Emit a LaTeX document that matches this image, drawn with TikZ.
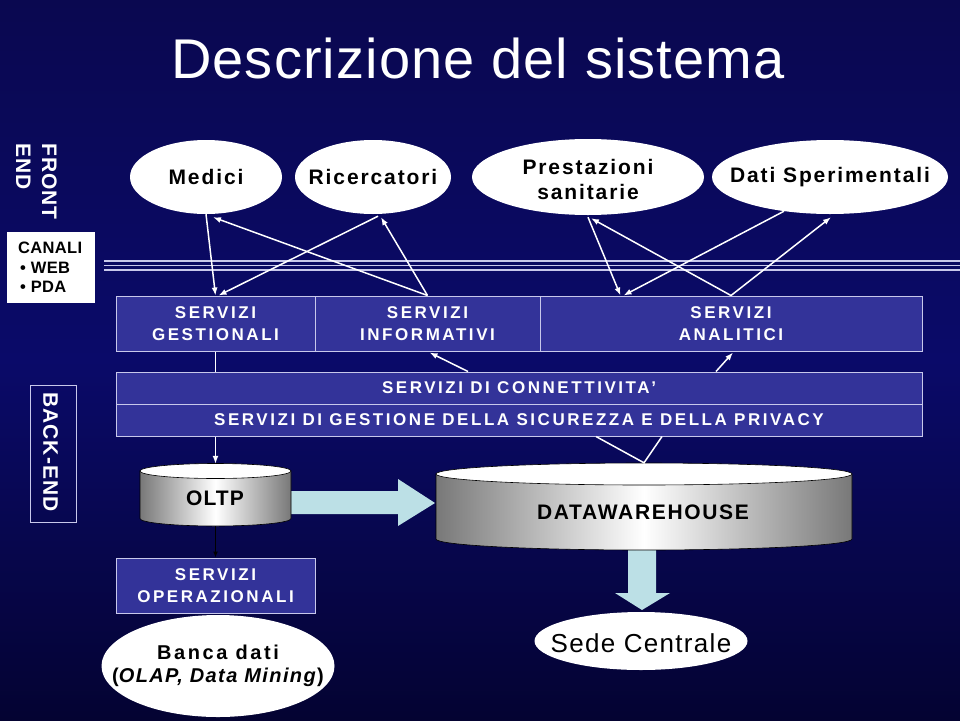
\documentclass[tikz,border=0pt]{standalone}
\usepackage{fontspec}
\setmainfont{Liberation Sans}
\newfontfamily\ttlf{Liberation Sans}[LetterSpace=2]
\newfontfamily\elf{Liberation Sans}[LetterSpace=9]
\newfontfamily\svf{Liberation Sans}[LetterSpace=15]
\newfontfamily\sdf{Liberation Sans}[LetterSpace=5]
\newfontfamily\dwf{Liberation Sans}[LetterSpace=8]
\newfontfamily\bkf{Liberation Sans}[LetterSpace=5]
\newfontfamily\bdf{Liberation Sans}[LetterSpace=13]
\newfontfamily\bdif{Liberation Sans}[LetterSpace=7]
\newfontfamily\cnf{Liberation Sans}[LetterSpace=2]
\usetikzlibrary{shapes.geometric,arrows.meta,calc}
\definecolor{bgtop}{RGB}{10,8,80}
\definecolor{bgmid}{RGB}{10,10,105}
\definecolor{bgbot}{RGB}{4,3,50}
\definecolor{boxblue}{RGB}{51,51,153}
\definecolor{lav}{RGB}{200,200,235}
\definecolor{lblue}{RGB}{188,224,230}
\definecolor{cylgray}{RGB}{120,120,120}
\begin{document}
\begin{tikzpicture}[x=1pt,y=-1pt,
  bub/.style={ellipse, fill=white, draw=none, inner sep=0pt},
  bubtext/.style={font=\elf\bfseries\fontsize{21}{25}\selectfont, text=black, align=center, inner sep=0pt},
  svc/.style={rectangle, fill=boxblue, draw=lav, line width=1pt, text=white, align=center, inner sep=0pt, font=\svf\bfseries\fontsize{17}{22}\selectfont},
  arr/.style={draw=white, line width=1.5pt, -{Latex[length=8pt,width=6pt]}},
  plainline/.style={draw=white, line width=1.5pt},
  blk/.style={draw=black, line width=1.2pt, -{Latex[length=6pt,width=5pt]}},
  cylbox/.style={inner sep=0pt, draw=none},
  cyltext/.style={font=\dwf\bfseries\fontsize{21}{25}\selectfont, text=black, inner sep=0pt},
  sidetext/.style={text=white, inner sep=0pt, font=\bkf\bfseries\fontsize{21}{26}\selectfont}
]
\useasboundingbox (0,0) rectangle (960,720);
\shade[top color=bgtop, bottom color=bgbot, middle color=bgmid] (0,0) rectangle (960,720);

% title
\node[anchor=base, text=white, font=\ttlf\fontsize{56}{60}\selectfont, inner sep=0pt] (title) at (478,78) {Descrizione del sistema};

% front end / canali
\node[sidetext, rotate=-90, anchor=north west, align=left] (fe) at (57,143) {FRONT\\END};
\node[fill=white, minimum width=88pt, minimum height=71pt, inner sep=0pt] (canali) at (51,267.5) {};
\node[anchor=north west, align=left, inner sep=0pt, text=black, font=\cnf\bfseries\fontsize{16.5}{19.5}\selectfont] (canaliT) at (18,242) {CANALI\\\hspace{2pt}• WEB\\\hspace{2pt}• PDA};

% back end
\node[draw=lav, line width=1pt, minimum width=46pt, minimum height=137pt, inner sep=0pt] (beframe) at (53,453.5) {};
\node[sidetext, rotate=-90] (beT) at (50.5,452) {BACK-END};

% triple lines
\foreach \yy in {261,265.5,270} \draw[lav, line width=1.7pt] (104,\yy) -- (960,\yy);

% top ellipses
\node[bub, minimum width=152pt, minimum height=74pt] (medici) at (206,177) {};
\node[bubtext] (mediciT) at (medici) {Medici};
\node[bub, minimum width=156pt, minimum height=74pt] (ricerc) at (373,177) {};
\node[bubtext] (ricercT) at (ricerc) {Ricercatori};
\node[bub, minimum width=232pt, minimum height=76pt] (prest) at (588,177) {};
\node[bubtext] (prestT) at ($(prest)+(0,2)$) {Prestazioni\\sanitarie};
\node[bub, minimum width=236pt, minimum height=74pt] (dati) at (830,177) {};
\node[bubtext] (datiT) at (dati) {Dati Sperimentali};

% service boxes
\node[svc, minimum width=199pt, minimum height=55pt] (gest) at (215.5,323.5) {SERVIZI\\GESTIONALI};
\node[svc, minimum width=225pt, minimum height=55pt] (info) at (427.5,323.5) {SERVIZI\\INFORMATIVI};
\node[svc, minimum width=382pt, minimum height=55pt] (anal) at (731,323.5) {SERVIZI\\ANALITICI};
\node[svc, minimum width=806pt, minimum height=32pt] (conn) at (519,388) {SERVIZI DI CONNETTIVITA’};
\node[svc, minimum width=806pt, minimum height=32pt] (sec) at (519,420) {SERVIZI DI GESTIONE DELLA SICUREZZA E DELLA PRIVACY};
\node[svc, minimum width=199pt, minimum height=55pt] (ops) at (215.5,585.5) {SERVIZI\\OPERAZIONALI};

% top arrows
\draw[arr] (medici.south) -- (gest.north);
\draw[arr] (info.north) -- ($(medici.south)+(7,3)$);
\draw[arr] ($(ricerc.south)+(5,2)$) -- ($(gest.north)+(3,0)$);
\draw[arr] (info.north) -- ($(ricerc.south)+(8,3)$);
\draw[arr] ($(prest.south)+(0,2)$) -- ($(anal.north west)+(81,0)$);
\draw[arr] (anal.north) -- ($(prest.south)+(3,3)$);
\draw[arr] ($(dati.south)+(-46,-3)$) -- ($(anal.north west)+(84,0)$);
\draw[arr] (anal.north) -- ($(dati.south)+(1,3)$);

% middle connectors
\draw[plainline] (gest.south) -- (gest.south |- conn.north);
\draw[arr] ($(conn.north)+(-51,0)$) -- ($(info.south)+(2,1)$);
\draw[arr] ($(conn.north)+(197,0)$) -- ($(anal.south)+(2,1)$);

% block arrows
\fill[lblue] (291,491) -- (398,491) -- (398,479) -- (435,503) -- (398,526) -- (398,514) -- (291,514) -- cycle;
\fill[lblue] (628,545) -- (656,545) -- (656,593) -- (670,593) -- (642,610) -- (615,593) -- (628,593) -- cycle;

% OLTP cylinder
\shade[left color=cylgray, right color=cylgray, middle color=white, draw=black, line width=0.6pt]
  (140,471) -- (140,518.5) arc[start angle=180, end angle=0, x radius=75.5, y radius=7.5] -- (291,471) -- cycle;
\draw[fill=white, line width=0.6pt] (215.5,471) ellipse[x radius=75.5, y radius=7.5];
\node[cylbox, minimum width=151pt, minimum height=62pt] (oltp) at (215.5,495) {};
\node[cyltext, font=\bkf\bfseries\fontsize{21}{25}\selectfont] (oltpT) at (215,498) {OLTP};

% DW cylinder
\shade[left color=cylgray, right color=cylgray, middle color=white, draw=black, line width=0.6pt]
  (436,474) -- (436,539) arc[start angle=180, end angle=0, x radius=208, y radius=11] -- (852,474) -- cycle;
\draw[fill=white, line width=0.6pt] (644,474) ellipse[x radius=208, y radius=11];
\node[cylbox, minimum width=416pt, minimum height=87pt] (dw) at (644,506.5) {};
\node[cyltext] (dwT) at (643,512.5) {DATAWAREHOUSE};

% lower connectors
\draw[arr] (gest.south |- sec.south) -- (oltp.north);
\draw[plainline] ($(sec.south)+(77,0)$) -- (dw.north) -- ($(sec.south)+(143,0)$);
\draw[blk] (oltp.south) -- (ops.north);

% bottom ellipses
\node[bub, minimum width=213pt, minimum height=58pt] (sede) at (641,641) {};
\node[inner sep=0pt, text=black, font=\sdf\fontsize{26}{30}\selectfont] (sedeT) at (641,643) {Sede Centrale};
\node[bub, minimum width=233pt, minimum height=102pt] (banca) at (218,666) {};
\node[inner sep=0pt, text=black, align=center, font=\bdf\bfseries\fontsize{20}{23}\selectfont] (bancaT) at (218,666) {Banca dati\\{\bdif\bfseries(\textit{OLAP, Data Mining})}};
\end{tikzpicture}
\end{document}
